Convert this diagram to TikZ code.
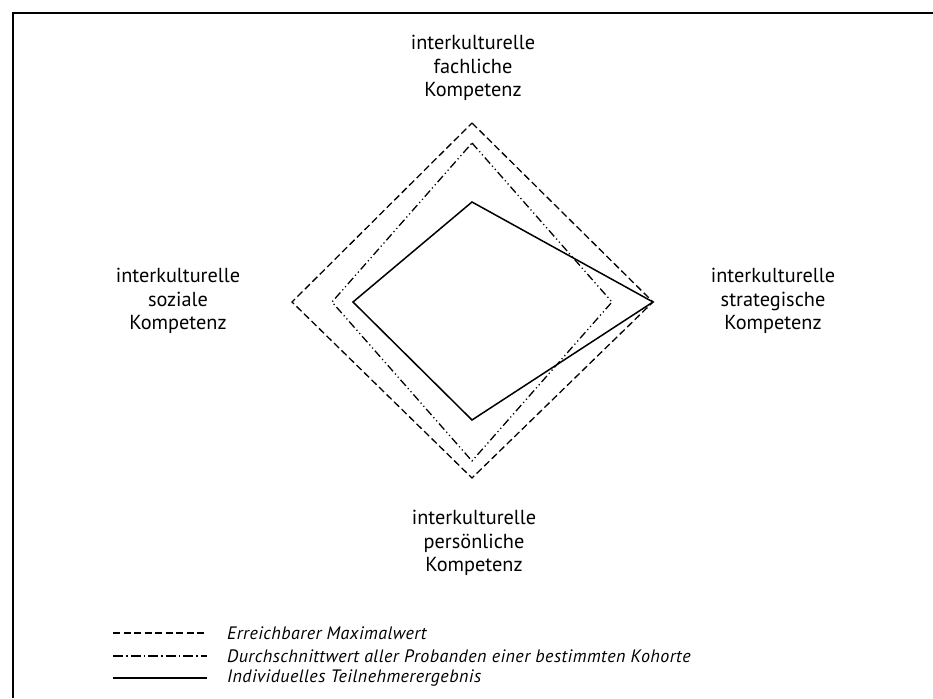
\documentclass[tikz,border=0pt]{standalone}
\usepackage{fontspec}
\setmainfont{PT Sans}
\begin{document}
\begin{tikzpicture}[x=1pt,y=-1pt,
  lbl/.style={align=center,inner sep=0pt,font=\fontsize{20.3}{23.5}\selectfont},
  leg/.style={anchor=west,inner sep=0pt,font=\fontsize{18}{20}\selectfont\itshape\addfontfeature{LetterSpace=2.5}},
  maxline/.style={line width=1.3pt,dash pattern=on 7pt off 3.5pt},
  avgline/.style={line width=1.3pt,dash pattern=on 8pt off 3pt on 1.2pt off 3pt on 1.2pt off 3pt},
  avgleg/.style={line width=1.3pt,dash pattern=on 10pt off 3pt on 1.5pt off 3pt},
  indline/.style={line width=1.5pt,line join=miter}]
\useasboundingbox (0,0) rectangle (933,698);
% frame
\coordinate (fl) at (13,698);
\coordinate (ft) at (13,13);
\coordinate (fr) at (933,13);
\draw[line width=2.2pt] (fl) -- (ft) -- (fr);
% maximum
\coordinate (mT) at (472,123);
\coordinate (mR) at (653,302);
\coordinate (mB) at (472,478);
\coordinate (mL) at (292,302);
\draw[maxline] (mT) -- (mR) -- (mB) -- (mL) -- cycle;
% average
\coordinate (aT) at (472,143);
\coordinate (aR) at (612,302);
\coordinate (aB) at (472,461);
\coordinate (aL) at (332,302);
\draw[avgline] (aT) -- (aR) -- (aB) -- (aL) -- cycle;
% individual
\coordinate (iT) at (472,202);
\coordinate (iR) at (653,302);
\coordinate (iB) at (472,420);
\coordinate (iL) at (353,302);
\draw[indline] (iT) -- (iR) -- (iB) -- (iL) -- cycle;
% labels
\node[lbl] (top) at (473,68) {interkulturelle\\fachliche\\Kompetenz};
\node[lbl] (left) at (178,301) {interkulturelle\\soziale\\Kompetenz};
\node[lbl] (right) at (773,301) {interkulturelle\\strategische\\Kompetenz};
\node[lbl] (bottom) at (474,543) {interkulturelle\\persönliche\\Kompetenz};
% legend
\coordinate (l1a) at (113,633); \coordinate (l1b) at (207,633);
\coordinate (l2a) at (113,656); \coordinate (l2b) at (207,656);
\coordinate (l3a) at (113,678); \coordinate (l3b) at (207,678);
\draw[maxline] (l1a) -- (l1b);
\draw[avgleg] (l2a) -- (l2b);
\draw[indline] (l3a) -- (l3b);
\node[leg] (t1) at (227,633) {Erreichbarer Maximalwert};
\node[leg] (t2) at (227,656) {Durchschnittwert aller Probanden einer bestimmten Kohorte};
\node[leg] (t3) at (227,678) {Individuelles Teilnehmerergebnis};
\end{tikzpicture}
\end{document}
